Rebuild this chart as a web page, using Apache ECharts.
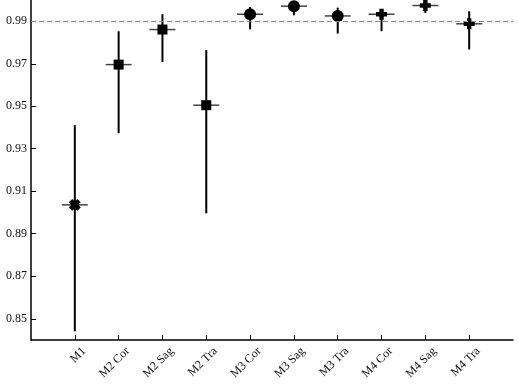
<!DOCTYPE html>
<html>
<head>
<meta charset="utf-8">
<script src="https://cdn.jsdelivr.net/npm/echarts@6/dist/echarts.min.js"></script>
<style>
  html, body { margin: 0; padding: 0; background: #fff; }
  #main { width: 519px; height: 384px; }
</style>
</head>
<body>
<div id="main"></div>
<script>
var categories = ['M1', 'M2 Cor', 'M2 Sag', 'M2 Tra', 'M3 Cor', 'M3 Sag', 'M3 Tra', 'M4 Cor', 'M4 Sag', 'M4 Tra'];
var means = [0.9036, 0.9696, 0.9861, 0.9505, 0.9933, 0.9971, 0.9925, 0.9933, 0.9974, 0.9888];
var lower = [0.8441, 0.9373, 0.9708, 0.8996, 0.9862, 0.9928, 0.9842, 0.9853, 0.9939, 0.9767];
var upper = [0.9411, 0.9853, 0.9933, 0.9764, 0.9967, 0.9985, 0.9964, 0.9948, 0.9988, 0.9947];
var yTicks = [0.85, 0.87, 0.89, 0.91, 0.93, 0.95, 0.97, 0.99];
var refLine = 0.99;

var plusPath = 'path://M3,0H7V3H10V7H7V10H3V7H0V3H3Z';
// marker per group: M1 = x, M2 = square, M3 = circle, M4 = plus
function markerFor(name) {
    if (name === 'M1') return { symbol: plusPath, symbolSize: 12, symbolRotate: 45 };
    if (name.indexOf('M2') === 0) return { symbol: 'rect', symbolSize: 10, symbolRotate: 0 };
    if (name.indexOf('M3') === 0) return { symbol: 'circle', symbolSize: 12, symbolRotate: 0 };
    return { symbol: plusPath, symbolSize: 11, symbolRotate: 0 };
}

// category slots: empty ones at both ends so points sit on ticks 1..10
var xData = [''].concat(categories).concat(['']);

var barData = categories.map(function (c, i) {
    return [i + 1, lower[i], upper[i], means[i]];
});
var pointData = categories.map(function (c, i) {
    var m = markerFor(c);
    return {
        value: [i + 1, means[i]],
        symbol: m.symbol,
        symbolSize: m.symbolSize,
        symbolRotate: m.symbolRotate
    };
});

var chart = echarts.init(document.getElementById('main'));
var font = 'Liberation Serif';

var option = {
    animation: false,
    backgroundColor: '#fff',
    grid: { left: 31, right: 6, top: 0, bottom: 44, outerBoundsMode: 'none', containLabel: false },
    xAxis: {
        type: 'category',
        data: xData,
        boundaryGap: false,
        axisLine: { lineStyle: { color: '#000', width: 1.5 } },
        axisTick: {
            inside: true,
            length: 5,
            interval: function (idx, val) { return val !== ''; },
            lineStyle: { color: '#000' }
        },
        axisLabel: {
            interval: 0,
            rotate: 45,
            margin: 0,
            verticalAlign: 'top',
            lineHeight: 26,
            fontFamily: font,
            fontSize: 12,
            color: '#111'
        },
        splitLine: { show: false }
    },
    yAxis: {
        type: 'value',
        min: 0.84,
        max: 1.0,
        axisLine: { show: true, lineStyle: { color: '#000', width: 1.5 } },
        axisTick: {
            show: true,
            inside: true,
            length: 5,
            customValues: yTicks,
            lineStyle: { color: '#000' }
        },
        axisLabel: {
            customValues: yTicks,
            margin: 4,
            fontFamily: font,
            fontSize: 12,
            color: '#111',
            formatter: function (v) { return v.toFixed(2); }
        },
        splitLine: { show: false }
    },
    series: [
        {
            type: 'custom',
            data: barData,
            z: 2,
            renderItem: function (params, api) {
                var x = api.value(0);
                var lo = api.coord([x, api.value(1)]);
                var hi = api.coord([x, api.value(2)]);
                var mid = api.coord([x, api.value(3)]);
                var half = 13;
                return {
                    type: 'group',
                    children: [
                        {
                            type: 'line',
                            shape: { x1: mid[0] - half, y1: mid[1], x2: mid[0] + half, y2: mid[1] },
                            style: { stroke: '#444', lineWidth: 1.5 }
                        },
                        {
                            type: 'line',
                            shape: { x1: lo[0], y1: lo[1], x2: hi[0], y2: hi[1] },
                            style: { stroke: '#000', lineWidth: 2 }
                        }
                    ]
                };
            },
            markLine: {
                silent: true,
                symbol: ['none', 'none'],
                label: { show: false },
                lineStyle: { color: '#888', type: [5, 3], width: 1 },
                data: [{ yAxis: refLine }]
            }
        },
        {
            type: 'scatter',
            data: pointData,
            z: 3,
            itemStyle: { color: '#000', opacity: 1 }
        }
    ]
};

chart.setOption(option);
</script>
</body>
</html>
